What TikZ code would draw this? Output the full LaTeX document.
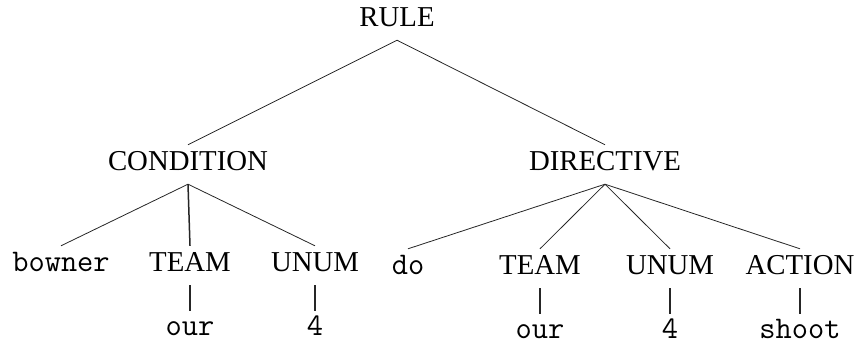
\documentclass[tikz,border=0pt]{standalone}
\usepackage{fontspec}
\setmainfont{Liberation Serif}
\begin{document}
\begin{tikzpicture}[x=1pt,y=-1pt,
  lab/.style={anchor=base, inner xsep=0pt, inner ysep=6pt, text height=20pt, text depth=7pt, font=\fontsize{28.8}{30}\selectfont},
  term/.style={lab, font=\fontsize{31.5}{33}\selectfont\ttfamily},
  leaf/.style={term, inner ysep=0pt, text height=24pt, text depth=0pt},
  edge/.style={line width=0.8pt, draw=black!85},
  vedge/.style={line width=1.5pt, draw=black!85}]
\useasboundingbox (0,0) rectangle (859,344);
\node[lab] (rule) at (397,27) {RULE};
\node[lab] (cond) at (188,171) {CONDITION};
\node[lab] (dir) at (605,171) {DIRECTIVE};
\node[term] (bowner) at (61,272) {bowner};
\node[lab] (team1) at (190,272) {TEAM};
\node[lab] (unum1) at (315,272) {UNUM};
\node[leaf] (our1) at (190,335.5) {our};
\node[leaf] (four1) at (315,335.5) {4};
\node[term] (do) at (408,275) {do};
\node[lab] (team2) at (540,275) {TEAM};
\node[lab] (unum2) at (670,275) {UNUM};
\node[lab] (action) at (800,275) {ACTION};
\node[leaf] (our2) at (540,338) {our};
\node[leaf] (four2) at (670,338) {4};
\node[leaf] (shoot) at (800,338) {shoot};
\draw[edge] (rule.south) -- (cond.north);
\draw[edge] (rule.south) -- (dir.north);
\draw[edge] (cond.south) -- (bowner.north);
\draw[vedge] (cond.south) -- (team1.north);
\draw[edge] (cond.south) -- (unum1.north);
\draw[edge] (dir.south) -- (do.north);
\draw[edge] (dir.south) -- (team2.north);
\draw[edge] (dir.south) -- (unum2.north);
\draw[edge] (dir.south) -- (action.north);
\draw[vedge] (team1.south) -- (our1.north);
\draw[vedge] (unum1.south) -- (four1.north);
\draw[vedge] (team2.south) -- (our2.north);
\draw[vedge] (unum2.south) -- (four2.north);
\draw[vedge] (action.south) -- (shoot.north);
\end{tikzpicture}
\end{document}
